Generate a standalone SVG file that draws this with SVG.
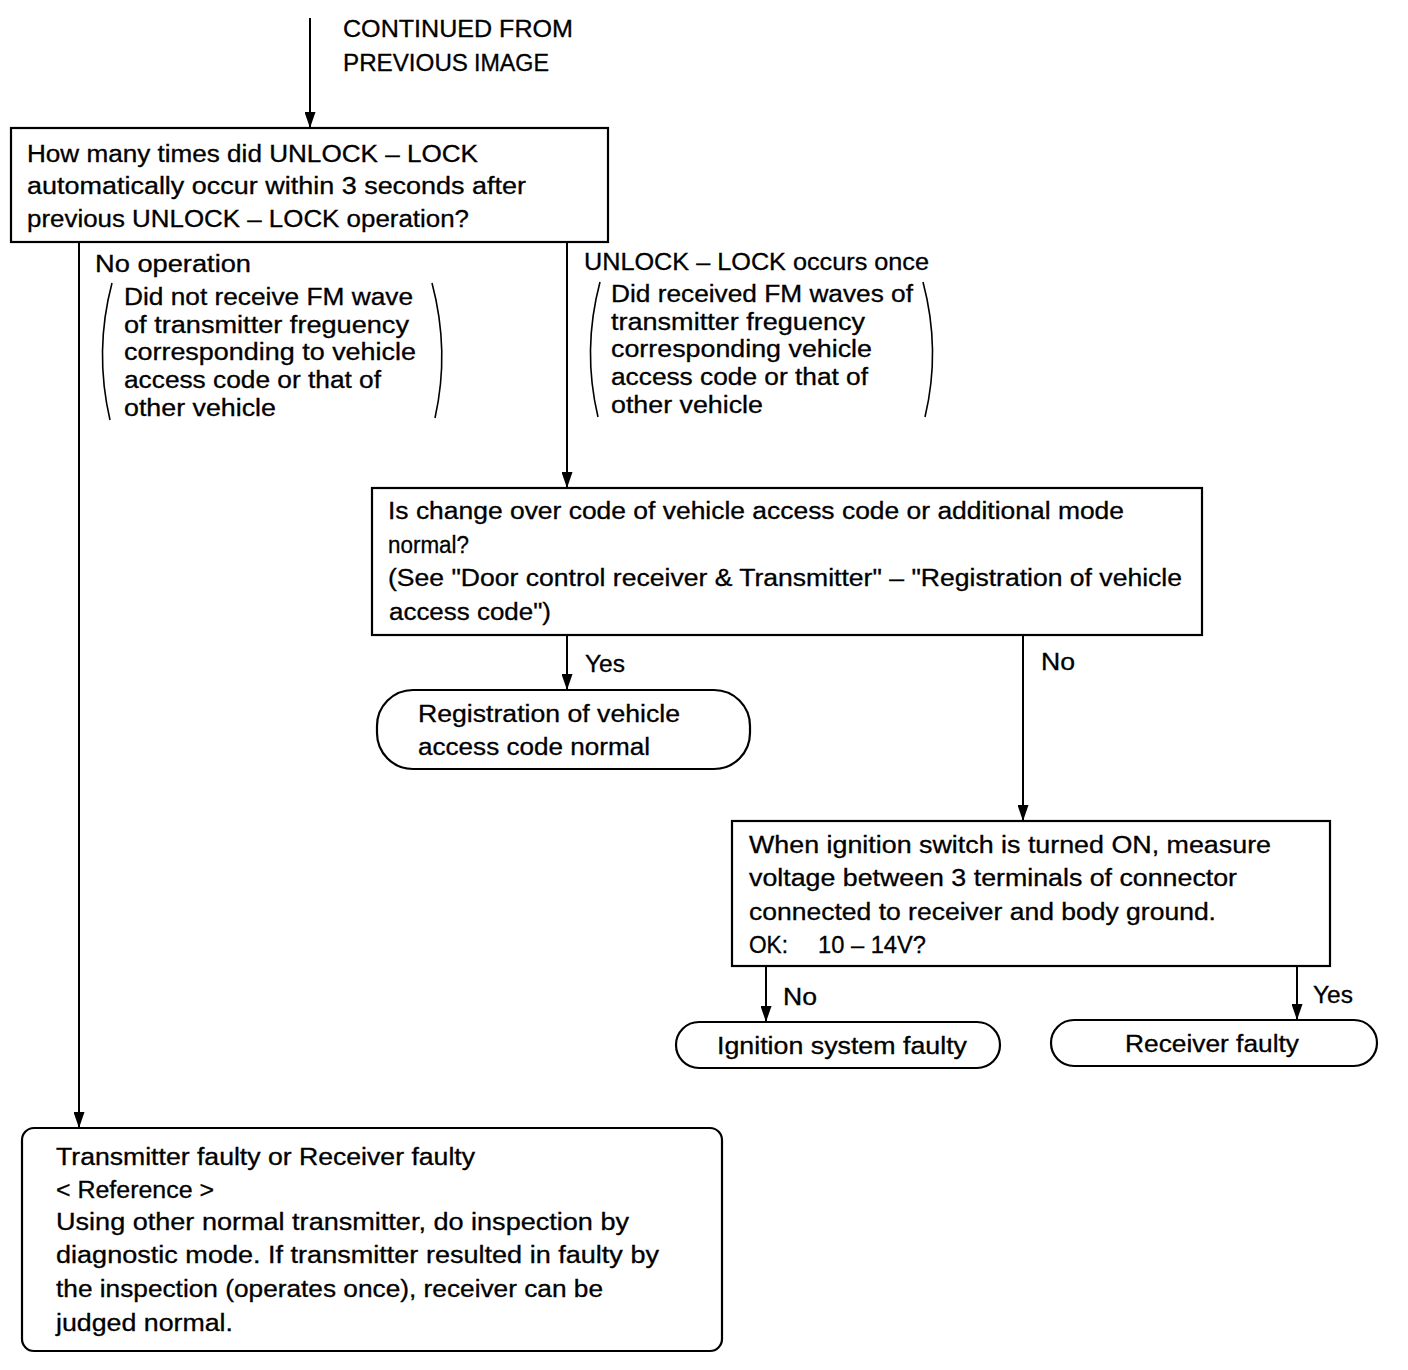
<svg xmlns="http://www.w3.org/2000/svg" width="1408" height="1370" viewBox="0 0 1408 1370">
<style>
text{font-family:"Liberation Sans",Arial,sans-serif;font-size:23px;fill:#000;stroke:#000;stroke-width:0.3;}
.box{fill:#fff;stroke:#000;stroke-width:2.2;}
.line{fill:none;stroke:#000;stroke-width:2;}
.paren{fill:none;stroke:#000;stroke-width:1.6;}
</style>
<defs>
<marker id="arr" viewBox="0 0 16 11" refX="16" refY="5.5" markerWidth="16" markerHeight="11" markerUnits="userSpaceOnUse" orient="auto">
<path d="M0,0 L16,5.5 L0,11 z" fill="#000"/>
</marker>
</defs>
<rect width="1408" height="1370" fill="#fff"/>
<g id="connectors">
<line class="line" x1="310" y1="18" x2="310" y2="128" marker-end="url(#arr)"/>
<line class="line" x1="79" y1="242" x2="79" y2="1128" marker-end="url(#arr)"/>
<line class="line" x1="567" y1="242" x2="567" y2="488" marker-end="url(#arr)"/>
<line class="line" x1="567" y1="635" x2="567" y2="690" marker-end="url(#arr)"/>
<line class="line" x1="1023" y1="635" x2="1023" y2="821" marker-end="url(#arr)"/>
<line class="line" x1="766" y1="966" x2="766" y2="1022" marker-end="url(#arr)"/>
<line class="line" x1="1297" y1="966" x2="1297" y2="1020" marker-end="url(#arr)"/>
<text x="95" y="272" textLength="156" lengthAdjust="spacingAndGlyphs">No operation</text>
<text x="584" y="270" textLength="345" lengthAdjust="spacingAndGlyphs">UNLOCK – LOCK occurs once</text>
<text x="585" y="672" textLength="40" lengthAdjust="spacingAndGlyphs">Yes</text>
<text x="1041" y="670" textLength="34" lengthAdjust="spacingAndGlyphs">No</text>
<text x="783" y="1005" textLength="34" lengthAdjust="spacingAndGlyphs">No</text>
<text x="1313" y="1003" textLength="40" lengthAdjust="spacingAndGlyphs">Yes</text>
</g>
<g id="continued">
<text x="343" y="37" textLength="230" lengthAdjust="spacingAndGlyphs">CONTINUED FROM</text>
<text x="343" y="71" textLength="125" lengthAdjust="spacingAndGlyphs">PREVIOUS</text>
<text x="474" y="71" font-size="21" textLength="75" lengthAdjust="spacingAndGlyphs">IMAGE</text>
</g>
<g id="q1">
<rect class="box" x="11" y="128" width="597" height="114"/>
<text x="27" y="162" textLength="451" lengthAdjust="spacingAndGlyphs">How many times did UNLOCK – LOCK</text>
<text x="27" y="194" textLength="499" lengthAdjust="spacingAndGlyphs">automatically occur within 3 seconds after</text>
<text x="27" y="227" textLength="442" lengthAdjust="spacingAndGlyphs">previous UNLOCK – LOCK operation?</text>
</g>
<g id="note-left">
<path class="paren" d="M112,283 Q94,351 110,420"/>
<path class="paren" d="M432,283 Q450,351 435,418"/>
<text x="124" y="305" textLength="289" lengthAdjust="spacingAndGlyphs">Did not receive FM wave</text>
<text x="124" y="333" textLength="285" lengthAdjust="spacingAndGlyphs">of transmitter freguency</text>
<text x="124" y="360" textLength="292" lengthAdjust="spacingAndGlyphs">corresponding to vehicle</text>
<text x="124" y="388" textLength="257" lengthAdjust="spacingAndGlyphs">access code or that of</text>
<text x="124" y="416" textLength="152" lengthAdjust="spacingAndGlyphs">other vehicle</text>
</g>
<g id="note-right">
<path class="paren" d="M600,282 Q582,350 598,417"/>
<path class="paren" d="M923,282 Q941,350 925,417"/>
<text x="611" y="302" textLength="302" lengthAdjust="spacingAndGlyphs">Did received FM waves of</text>
<text x="611" y="330" textLength="254" lengthAdjust="spacingAndGlyphs">transmitter freguency</text>
<text x="611" y="357" textLength="261" lengthAdjust="spacingAndGlyphs">corresponding vehicle</text>
<text x="611" y="385" textLength="257" lengthAdjust="spacingAndGlyphs">access code or that of</text>
<text x="611" y="413" textLength="152" lengthAdjust="spacingAndGlyphs">other vehicle</text>
</g>
<g id="q2">
<rect class="box" x="372" y="488" width="830" height="147"/>
<text x="388" y="519" textLength="736" lengthAdjust="spacingAndGlyphs">Is change over code of vehicle access code or additional mode</text>
<text x="388" y="553" textLength="81" lengthAdjust="spacingAndGlyphs">normal?</text>
<text x="388" y="586" textLength="794" lengthAdjust="spacingAndGlyphs">(See "Door control receiver &amp; Transmitter" – "Registration of vehicle</text>
<text x="389" y="620" textLength="162" lengthAdjust="spacingAndGlyphs">access code")</text>
</g>
<g id="reg-normal">
<rect class="box" x="377" y="690" width="373" height="79" rx="36" ry="36"/>
<text x="418" y="722" textLength="262" lengthAdjust="spacingAndGlyphs">Registration of vehicle</text>
<text x="418" y="755" textLength="232" lengthAdjust="spacingAndGlyphs">access code normal</text>
</g>
<g id="q3">
<rect class="box" x="732" y="821" width="598" height="145"/>
<text x="749" y="853" textLength="522" lengthAdjust="spacingAndGlyphs">When ignition switch is turned ON, measure</text>
<text x="749" y="886" textLength="488" lengthAdjust="spacingAndGlyphs">voltage between 3 terminals of connector</text>
<text x="749" y="920" textLength="467" lengthAdjust="spacingAndGlyphs">connected to receiver and body ground.</text>
<text x="749" y="953" textLength="39" lengthAdjust="spacingAndGlyphs">OK:</text>
<text x="818" y="953" textLength="108" lengthAdjust="spacingAndGlyphs">10 – 14V?</text>
</g>
<g id="ignition-faulty">
<rect class="box" x="676" y="1022" width="324" height="46" rx="23" ry="23"/>
<text x="717" y="1054" textLength="250" lengthAdjust="spacingAndGlyphs">Ignition system faulty</text>
</g>
<g id="receiver-faulty">
<rect class="box" x="1051" y="1020" width="326" height="46" rx="23" ry="23"/>
<text x="1125" y="1052" textLength="174" lengthAdjust="spacingAndGlyphs">Receiver faulty</text>
</g>
<g id="tx-rx-faulty">
<rect class="box" x="22" y="1128" width="700" height="223" rx="12" ry="12"/>
<text x="56" y="1165" textLength="419" lengthAdjust="spacingAndGlyphs">Transmitter faulty or Receiver faulty</text>
<text x="56" y="1198" textLength="158" lengthAdjust="spacingAndGlyphs">&lt; Reference &gt;</text>
<text x="56" y="1230" textLength="573" lengthAdjust="spacingAndGlyphs">Using other normal transmitter, do inspection by</text>
<text x="56" y="1263" textLength="603" lengthAdjust="spacingAndGlyphs">diagnostic mode. If transmitter resulted in faulty by</text>
<text x="56" y="1297" textLength="547" lengthAdjust="spacingAndGlyphs">the inspection (operates once), receiver can be</text>
<text x="56" y="1331" textLength="177" lengthAdjust="spacingAndGlyphs">judged normal.</text>
</g>
</svg>
